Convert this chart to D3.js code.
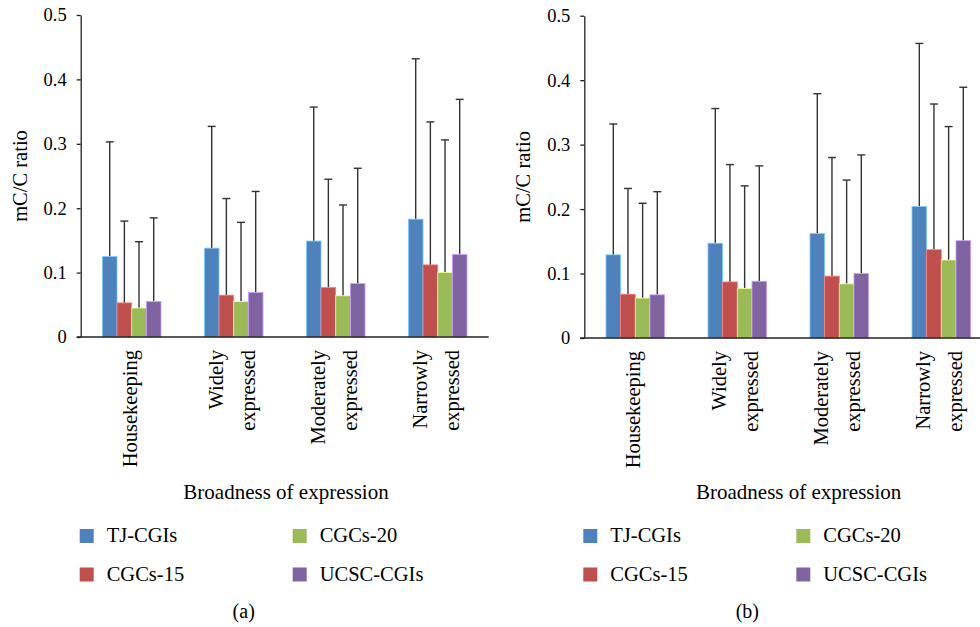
<!DOCTYPE html>
<html>
<head>
<meta charset="utf-8">
<script src="https://cdn.jsdelivr.net/npm/d3@7"></script>
<style>
  body { margin: 0; background: #fff; }
</style>
</head>
<body>
<div id="chart"></div>
<script>
// categories on the x axis (line breaks as in the picture)
var categories = ["Housekeeping", "Widely expressed", "Moderately expressed", "Narrowly expressed"];
var categoryLines = [["Housekeeping"], ["Widely", "expressed"], ["Moderately", "expressed"], ["Narrowly", "expressed"]];
var seriesNames = ["TJ-CGIs", "CGCs-15", "CGCs-20", "UCSC-CGIs"];
var yTicks = [0, 0.1, 0.2, 0.3, 0.4, 0.5];

// panel (a): mean mC/C ratio, one row per series
var meansA = [
  [0.125, 0.138, 0.149, 0.183],
  [0.053, 0.065, 0.077, 0.112],
  [0.045, 0.055, 0.064, 0.100],
  [0.055, 0.069, 0.083, 0.128]
];
// panel (a): standard deviation (upper error bar)
var sdA = [
  [0.178, 0.189, 0.208, 0.249],
  [0.127, 0.150, 0.168, 0.222],
  [0.103, 0.123, 0.141, 0.206],
  [0.130, 0.157, 0.179, 0.241]
];
// panel (b)
var meansB = [
  [0.129, 0.147, 0.162, 0.204],
  [0.068, 0.087, 0.096, 0.137],
  [0.062, 0.077, 0.084, 0.121],
  [0.067, 0.088, 0.100, 0.151]
];
var sdB = [
  [0.203, 0.209, 0.217, 0.253],
  [0.164, 0.182, 0.184, 0.226],
  [0.147, 0.159, 0.161, 0.207],
  [0.160, 0.179, 0.184, 0.238]
];

var colors = ["#4f81bd", "#c0504d", "#9bbb59", "#8064a2"];

var svgWidth = 980;
var svgHeight = 627;
var serif = "'Liberation Serif', 'Times New Roman', 'DejaVu Serif', serif";

var svg = d3.select("#chart")
  .append("svg")
  .attr("width", svgWidth)
  .attr("height", svgHeight)
  .style("display", "block")
  .attr("font-family", serif);

// layout of each panel
var panels = [
  { means: meansA, sd: sdA, label: "(a)", axisX: 80.7, titleX: 286, yTop: 15, yBottom: 337 },
  { means: meansB, sd: sdB, label: "(b)", axisX: 584.3, titleX: 798.7, yTop: 15.7, yBottom: 338 }
];

function addText(sel, size) {
  return sel.append("text")
    .attr("fill", "#000")
    .style("font-family", serif)
    .style("font-size", (size || 20) + "px");
}

panels.forEach(function(p) {
  var g = svg.append("g");
  var plotWidth = 408;

  var yScale = d3.scaleLinear()
    .domain([0, 0.5])
    .range([p.yBottom, p.yTop]);

  var x0 = d3.scaleBand()
    .domain(categories)
    .range([p.axisX, p.axisX + plotWidth])
    .paddingInner(0.425)
    .paddingOuter(0.2125);

  var x1 = d3.scaleBand()
    .domain(seriesNames)
    .range([0, x0.bandwidth()]);

  // flatten into bar records
  var bars = [];
  seriesNames.forEach(function(s, si) {
    categories.forEach(function(c, ci) {
      bars.push({ series: s, si: si, cat: c, mean: p.means[si][ci], sd: p.sd[si][ci] });
    });
  });

  var mid = d => x0(d.cat) + x1(d.series) + x1.bandwidth() / 2;

  // error bars (upper only), drawn behind the bars
  var err = g.append("g")
    .attr("stroke", "#333")
    .attr("stroke-width", 1.4);
  err.selectAll("line.v")
    .data(bars)
    .enter()
    .append("line")
    .attr("class", "v")
    .attr("x1", mid)
    .attr("x2", mid)
    .attr("y1", d => yScale(d.mean))
    .attr("y2", d => yScale(d.mean + d.sd));
  err.selectAll("line.cap")
    .data(bars)
    .enter()
    .append("line")
    .attr("class", "cap")
    .attr("x1", d => mid(d) - 4)
    .attr("x2", d => mid(d) + 4)
    .attr("y1", d => yScale(d.mean + d.sd))
    .attr("y2", d => yScale(d.mean + d.sd));

  // bars
  g.selectAll("rect")
    .data(bars)
    .enter()
    .append("rect")
    .attr("x", d => x0(d.cat) + x1(d.series))
    .attr("y", d => yScale(d.mean))
    .attr("width", x1.bandwidth())
    .attr("height", d => yScale(0) - yScale(d.mean))
    .attr("fill", d => colors[d.si])
    .attr("stroke", d => d3.color(colors[d.si]).brighter(1.3))
    .attr("stroke-width", 0.8);

  // y axis
  var leftAxis = d3.axisLeft(yScale)
    .tickValues(yTicks)
    .tickFormat(d3.format("~g"))
    .tickSize(4)
    .tickSizeOuter(0)
    .tickPadding(10);
  var ya = g.append("g")
    .attr("transform", `translate(${p.axisX}, 0)`)
    .call(leftAxis)
    .attr("font-family", serif);
  ya.select(".domain").attr("stroke", "#222").attr("stroke-width", 1.3);
  ya.selectAll(".tick line").attr("stroke", "#222").attr("stroke-width", 1.3);
  ya.selectAll(".tick text")
    .attr("fill", "#000")
    .style("font-family", serif)
    .style("font-size", "18.5px");

  // x axis baseline
  g.append("line")
    .attr("x1", p.axisX - 4)
    .attr("x2", p.axisX + plotWidth)
    .attr("y1", yScale(0))
    .attr("y2", yScale(0))
    .attr("stroke", "#222")
    .attr("stroke-width", 1.3);

  // rotated category labels
  categories.forEach(function(c, ci) {
    var lines = categoryLines[ci];
    var cx = x0(c) + x0.bandwidth() / 2;
    lines.forEach(function(t, li) {
      var off = (li - (lines.length - 1) / 2) * 32 + 5;
      addText(g, 20.5)
        .attr("transform", `translate(${cx + off}, ${yScale(0) + 13}) rotate(-90)`)
        .attr("text-anchor", "end")
        .text(t);
    });
  });

  // y axis title
  addText(g, 20.5)
    .attr("transform", `translate(${p.axisX - 54}, ${(p.yTop + p.yBottom) / 2}) rotate(-90)`)
    .attr("text-anchor", "middle")
    .text("mC/C ratio");

  // x axis title
  addText(g, 21)
    .attr("x", p.titleX)
    .attr("y", 499)
    .attr("text-anchor", "middle")
    .text("Broadness of expression");

  // legend, two columns: col 1 = TJ-CGIs, CGCs-15 ; col 2 = CGCs-20, UCSC-CGIs
  var legend = g.selectAll("g.legend")
    .data(seriesNames)
    .enter()
    .append("g")
    .attr("class", "legend")
    .attr("transform", function(d, i) {
      var col = i >= 2 ? 1 : 0;
      var row = i % 2;
      return `translate(${p.axisX - 1 + col * 213}, ${529 + row * 38.5})`;
    });
  legend.append("rect")
    .attr("width", 14)
    .attr("height", 14)
    .attr("fill", (d, i) => colors[i]);
  addText(legend, 20.5)
    .attr("x", 27)
    .attr("y", 13)
    .text(d => d);

  // panel label
  addText(g, 20)
    .attr("x", p.axisX + 163)
    .attr("y", 618)
    .attr("text-anchor", "middle")
    .text(p.label);
});
</script>
</body>
</html>
